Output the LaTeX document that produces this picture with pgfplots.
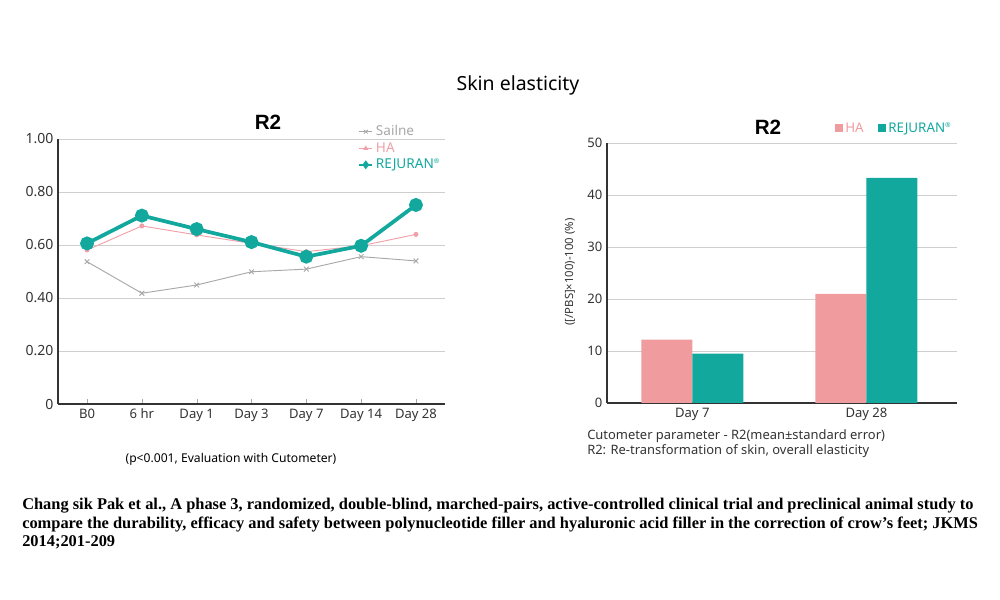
\documentclass[border=0pt]{standalone}
\usepackage{pgfplots}
\pgfplotsset{compat=1.18}
\usepackage{fontspec}
\setmainfont{Noto Sans}
\newfontfamily\footfont{Liberation Serif}
\newfontfamily\rfont{Liberation Sans}
\definecolor{teal}{HTML}{12A89E}
\definecolor{pinkline}{HTML}{F0A0A8}
\definecolor{pinkbar}{HTML}{F09C9F}
\definecolor{salgray}{HTML}{A8A8A8}
\definecolor{axgray}{HTML}{333333}
\definecolor{gridgray}{HTML}{CFCFCF}
\begin{document}
\begin{tikzpicture}
\useasboundingbox (0,0) rectangle (750pt,450pt);

% overall title
\node[font=\fontsize{14.6}{16}\selectfont] at (388.5pt,386.25pt) {Skin elasticity};

% ---- left: line chart
\begin{axis}[
  at={(43.5pt,147pt)}, anchor=south west,
  scale only axis, width=290.25pt, height=198.75pt,
  xmin=-0.53, xmax=6.53, ymin=0, ymax=1,
  axis x line*=bottom, axis y line*=left,
  axis line style={axgray, line width=0.8pt, -},
  xtick={0,...,6},
  xticklabels={B0,6 hr,Day 1,Day 3,Day 7,Day 14,Day 28},
  ytick={0,0.2,0.4,0.6,0.8,1},
  yticklabels={0,0.20,0.40,0.60,0.80,1.00},
  ymajorgrids, grid style={gridgray, line width=0.6pt},
  major tick length=4pt, tick align=inside,
  xtick style={salgray}, ytick style={draw=none},
  tick label style={font=\fontsize{9.8}{11}\selectfont, text=axgray},
  yticklabel style={font=\fontsize{10.5}{12}\selectfont},
  /pgf/number format/assume math mode=true,
  legend style={at={(0.765,1.072)}, anchor=north west, draw=none, fill=none,
    font=\fontsize{10.2}{11}\selectfont, row sep=-0.5pt},
  legend image code/.code={\draw[mark repeat=2,mark phase=2,#1]
    plot coordinates {(0pt,0pt) (5pt,0pt) (10pt,0pt)};},
  legend cell align=left,
  clip=false]
\addplot[salgray, line width=0.7pt, mark=x, mark size=2.5pt, forget plot] coordinates {
  (0,0.537) (1,0.418) (2,0.449) (3,0.499) (4,0.509) (5,0.556) (6,0.540)};
\addplot[pinkline, line width=0.7pt, mark=*, mark size=1.5pt, forget plot] coordinates {
  (0,0.581) (1,0.672) (2,0.638) (3,0.606) (4,0.575) (5,0.597) (6,0.640)};
\addplot[teal, line width=2.8pt, mark=*, mark size=3.8pt, forget plot] coordinates {
  (0,0.606) (1,0.711) (2,0.660) (3,0.611) (4,0.556) (5,0.597) (6,0.751)};
\addlegendimage{salgray, line width=0.6pt, mark=x, mark size=2pt}
\addlegendentry{\textcolor{salgray}{Sailne}}
\addlegendimage{pinkline, line width=0.6pt, mark=triangle*, mark size=1.6pt}
\addlegendentry{\textcolor{pinkline}{HA}}
\addlegendimage{teal, line width=1.2pt, mark=diamond*, mark size=2.4pt}
\addlegendentry{\textcolor{teal}{REJURAN\textsuperscript{\tiny ®}}}
\end{axis}
\node[font=\rfont\bfseries\fontsize{15.5}{17}\selectfont] at (201pt,358.5pt) {R2};
\node[font=\fontsize{9.1}{10}\selectfont] at (173.25pt,105.75pt) {(p<0.001, Evaluation with Cutometer)};

% ---- right: bar chart
\begin{axis}[
  at={(455.25pt,147.75pt)}, anchor=south west,
  scale only axis, width=262.5pt, height=195pt,
  xmin=-0.49, xmax=1.52, ymin=0, ymax=50,
  axis x line*=bottom, axis y line*=left,
  axis line style={axgray, line width=0.8pt, -},
  xtick={0,1}, xticklabels={Day 7,Day 28},
  ytick={0,10,...,50},
  ymajorgrids, grid style={gridgray, line width=0.6pt},
  major tick style={draw=none},
  tick label style={font=\fontsize{9.8}{11}\selectfont, text=axgray},
  /pgf/number format/assume math mode=true,
  legend style={at={(0.64,1.10)}, anchor=north west, draw=none, fill=none,
    font=\fontsize{10}{11}\selectfont, legend columns=2,
    /tikz/every even column/.append style={column sep=9pt}},
  legend image code/.code={\fill[#1] (0pt,-2.5pt) rectangle (5.5pt,3pt);},
  clip=false]
\addplot[ybar, bar width=0.293, bar shift=-0.1465, fill=pinkbar, draw=none] coordinates {
  (0,12.2) (1,21.0)};
\addlegendentry{\textcolor{pinkbar}{HA}}
\addplot[ybar, bar width=0.293, bar shift=0.1465, fill=teal, draw=none] coordinates {
  (0,9.5) (1,43.3)};
\addlegendentry{\textcolor{teal}{REJURAN\textsuperscript{\tiny ®}}}
\end{axis}
\node[font=\rfont\bfseries\fontsize{15.5}{17}\selectfont] at (576pt,354.75pt) {R2};
\node[rotate=90, font=\fontsize{8.5}{9}\selectfont, text=axgray] at (427.5pt,246pt) {([/PBS]×100)-100 (\%)};
\node[anchor=west, font=\fontsize{9.7}{10}\selectfont, inner sep=0pt, text=axgray] at (440.25pt,123pt) {Cutometer parameter - R2(mean±standard error)};
\node[anchor=west, font=\fontsize{9.7}{10}\selectfont, inner sep=0pt, text=axgray] at (440.25pt,111.75pt) {R2: Re-transformation of skin, overall elasticity};

% ---- reference footnote
\node[anchor=north west, inner sep=0pt, align=left,
  font=\footfont\bfseries\fontsize{12.3}{13.9}\selectfont] at (16.5pt,76.5pt) {%
Chang sik Pak et al., A phase 3, randomized, double-blind, marched-pairs, active-controlled clinical trial and preclinical animal study to\\
compare the durability, efficacy and safety between polynucleotide filler and hyaluronic acid filler in the correction of crow’s feet; JKMS\\
2014;201-209};
\end{tikzpicture}
\end{document}
